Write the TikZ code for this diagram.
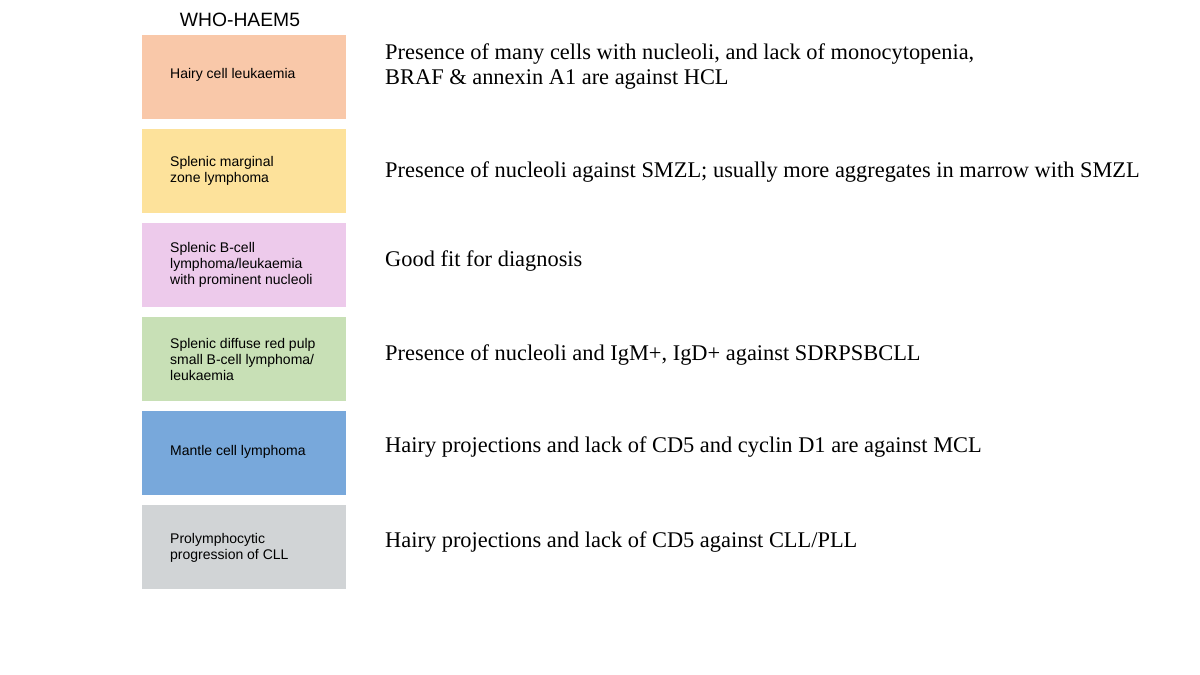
\documentclass[tikz,border=0pt]{standalone}
\usepackage{fontspec}
\setmainfont{Liberation Serif}
\newfontfamily\boxfont{Liberation Sans}
\definecolor{cA}{HTML}{F9C8A9}
\definecolor{cB}{HTML}{FDE29B}
\definecolor{cC}{HTML}{EDCAEB}
\definecolor{cD}{HTML}{C8E0B6}
\definecolor{cE}{HTML}{78A8DB}
\definecolor{cF}{HTML}{D1D4D6}
\begin{document}
\begin{tikzpicture}[x=1pt,y=1pt,
  cat/.style={minimum width=204pt,minimum height=84pt,inner sep=0pt,anchor=north west},
  lab/.style={anchor=west,inner sep=0pt,font=\boxfont\fontsize{14}{16}\selectfont,align=left},
  note/.style={anchor=west,inner sep=0pt,font=\fontsize{22.4}{25}\selectfont,align=left}]
\useasboundingbox (0,0) rectangle (1200,675);
\node[font=\boxfont\fontsize{19.3}{22}\selectfont] (title) at (240,655) {WHO-HAEM5};
\foreach \n/\c/\y in {a/cA/640,b/cB/546,c/cC/452,d/cD/358,e/cE/264,f/cF/170}
  \node[cat,fill=\c] (\n) at (142,\y) {};
\node[lab] (la) at (170,600) {Hairy cell leukaemia};
\node[lab] (lb) at (170,504) {Splenic marginal\\zone lymphoma};
\node[lab] (lc) at (170,410) {Splenic B-cell\\lymphoma/leukaemia\\with prominent nucleoli};
\node[lab] (ld) at (170,316) {Splenic diffuse red pulp\\small B-cell lymphoma/\\leukaemia};
\node[lab] (le) at (170,223) {Mantle cell lymphoma};
\node[lab] (lf) at (170,127) {Prolymphocytic\\progression of CLL};
\node[note] (na) at (385,608) {Presence of many cells with nucleoli, and lack of monocytopenia,\\BRAF \& annexin A1 are against HCL};
\node[note] (nb) at (385,503) {Presence of nucleoli against SMZL; usually more aggregates in marrow with SMZL};
\node[note] (nc) at (385,414) {Good fit for diagnosis};
\node[note] (nd) at (385,320) {Presence of nucleoli and IgM+, IgD+ against SDRPSBCLL};
\node[note] (ne) at (385,228) {Hairy projections and lack of CD5 and cyclin D1 are against MCL};
\node[note] (nf) at (385,133) {Hairy projections and lack of CD5 against CLL/PLL};
\end{tikzpicture}
\end{document}
